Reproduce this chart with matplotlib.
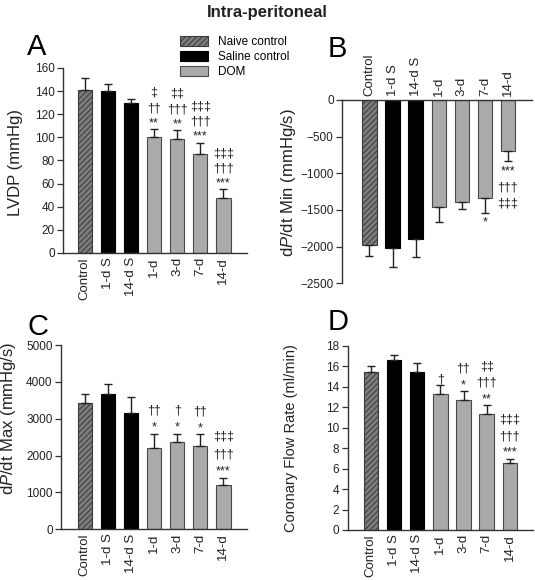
import numpy as np
import matplotlib
matplotlib.use("Agg")
import matplotlib.pyplot as plt
from matplotlib.patches import Patch

plt.rcParams['font.family'] = ['Liberation Sans', 'DejaVu Sans']
plt.rcParams['mathtext.fontset'] = 'custom'
plt.rcParams['mathtext.rm'] = 'Liberation Sans'
plt.rcParams['mathtext.it'] = 'Liberation Sans:italic'
plt.rcParams['hatch.linewidth'] = 0.7

groups = ['Control', '1-d S', '14-d S', '1-d', '3-d', '7-d', '14-d']
kind = ['naive', 'saline', 'saline', 'dom', 'dom', 'dom', 'dom']

lvdp = [141.0, 140.0, 129.7, 100.7, 98.4, 85.7, 47.8]
lvdp_err = [10.0, 6.3, 3.2, 6.4, 7.8, 9.8, 7.2]
lvdp_marks = ['', '', '', '‡\n††\n**', '‡‡\n†††\n**', '‡‡‡\n†††\n***', '‡‡‡\n†††\n***']

dpmin = [-1977, -2023, -1900, -1464, -1386, -1341, -691]
dpmin_err = [146, 259, 236, 195, 100, 195, 141]
dpmin_marks = ['', '', '', '', '', '*', '***\n†††\n‡‡‡']

dpmax = [3430, 3673, 3159, 2211, 2365, 2256, 1200]
dpmax_err = [243, 271, 433, 379, 225, 316, 199]
dpmax_marks = ['', '', '', '††\n*', '†\n*', '††\n*', '‡‡‡\n†††\n***']

flow = [15.49, 16.63, 15.49, 13.27, 12.72, 11.35, 6.52]
flow_err = [0.55, 0.45, 0.81, 0.91, 0.88, 0.85, 0.46]
flow_marks = ['', '', '', '†', '††\n*', '‡‡\n†††\n**', '‡‡‡\n†††\n***']

style = {
    'naive': dict(facecolor='#7c7c7c', edgecolor='#3a3a3a', hatch='//////'),
    'saline': dict(facecolor='black', edgecolor='black'),
    'dom': dict(facecolor='#aaaaaa', edgecolor='#4a4a4a'),
}

W, H = 535, 580
fig = plt.figure(figsize=(W / 100, H / 100), dpi=100)


def panel(rect, vals, errs, marks, ylim, ticks, xlim, ylabel, lab_xy,
          neg=False, mark_pad=1, ls=1.0, lab_size=12):
    ax = fig.add_axes([rect[0] / W, 1 - rect[3] / H, (rect[2] - rect[0]) / W,
                       (rect[3] - rect[1]) / H])
    x = np.arange(len(vals))
    for i, v in enumerate(vals):
        ax.bar(x[i], v, width=0.62, linewidth=0.8, zorder=2, **style[kind[i]])
    zeros = np.zeros(len(vals))
    yerr = [errs, zeros] if neg else [zeros, errs]
    ax.errorbar(x, vals, yerr=yerr, fmt='none', ecolor='#222222',
                elinewidth=1, capsize=2.6, capthick=1, zorder=3)
    for i, m in enumerate(marks):
        if not m:
            continue
        end = vals[i] - errs[i] if neg else vals[i] + errs[i]
        ax.annotate(m, (x[i], end), xytext=(0, -mark_pad if neg else mark_pad),
                    textcoords='offset points', ha='center',
                    va='top' if neg else 'bottom', fontsize=9,
                    linespacing=ls, color='#222222')
    ax.set_xlim(*xlim)
    ax.set_ylim(*ylim)
    ax.set_yticks(ticks)
    ax.set_xticks(x)
    ax.set_xticklabels(groups, rotation=90, fontsize=9.5, color='#222222')
    ax.tick_params(axis='x', length=0, pad=3)
    ax.tick_params(axis='y', length=4, width=0.9, color='#333333',
                   labelsize=8.5, labelcolor='#222222', pad=2)
    for s in ax.spines.values():
        s.set_color('#333333')
        s.set_linewidth(1.0)
    ax.spines['right'].set_visible(False)
    if neg:
        ax.spines['bottom'].set_visible(False)
        ax.xaxis.tick_top()
    else:
        ax.spines['top'].set_visible(False)
    ax.set_ylabel(ylabel, fontsize=lab_size, color='#222222')
    ax.yaxis.set_label_coords(*lab_xy)
    return ax


axA = panel((63, 68, 247, 253), lvdp, lvdp_err, lvdp_marks, (0, 160),
            np.arange(0, 161, 20), (-0.94, 7.02), 'LVDP (mmHg)', (-0.22, 0.49),
            mark_pad=0, ls=1.35)
axB = panel((342, 100, 532, 283.3), dpmin, dpmin_err, dpmin_marks, (-2500, 0),
            np.arange(-2500, 1, 500), (-1.19, 7.04),
            r'd$\it{P}$/dt Min (mmHg/s)', (-0.23, 0.55), neg=True,
            mark_pad=3, ls=1.45)
axC = panel((61, 345, 247, 529.3), dpmax, dpmax_err, dpmax_marks, (0, 5000),
            np.arange(0, 5001, 1000), (-1.03, 7.02),
            r'd$\it{P}$/dt Max (mmHg/s)', (-0.23, 0.6), mark_pad=0, ls=1.6)
axD = panel((347.7, 346, 533, 530), flow, flow_err, flow_marks, (0, 18),
            np.arange(0, 19, 2), (-1.0, 7.0), 'Coronary Flow Rate (ml/min)',
            (-0.27, 0.5), mark_pad=0, ls=1.5, lab_size=10.5)

for lab, (px, py) in zip('ABCD', [(37, 55), (337, 57), (38, 335), (338, 330)]):
    fig.text(px / W, 1 - py / H, lab, fontsize=21, ha='center', va='baseline')

fig.text(0.5, 1 - 13 / H, 'Intra-peritoneal', ha='center', va='center',
         fontsize=12, fontweight='bold', color='#222222')

handles = [Patch(linewidth=0.8, **style['naive']),
           Patch(linewidth=0.8, **style['saline']),
           Patch(linewidth=0.8, **style['dom'])]
fig.legend(handles, ['Naive control', 'Saline control', 'DOM'],
           loc='upper left', bbox_to_anchor=(180 / W, 1 - 36 / H),
           frameon=False, fontsize=8.5, handlelength=2.4, handleheight=0.85,
           handletextpad=0.8, labelspacing=0.25, borderpad=0, borderaxespad=0)

fig.savefig('out.png', dpi=100)
